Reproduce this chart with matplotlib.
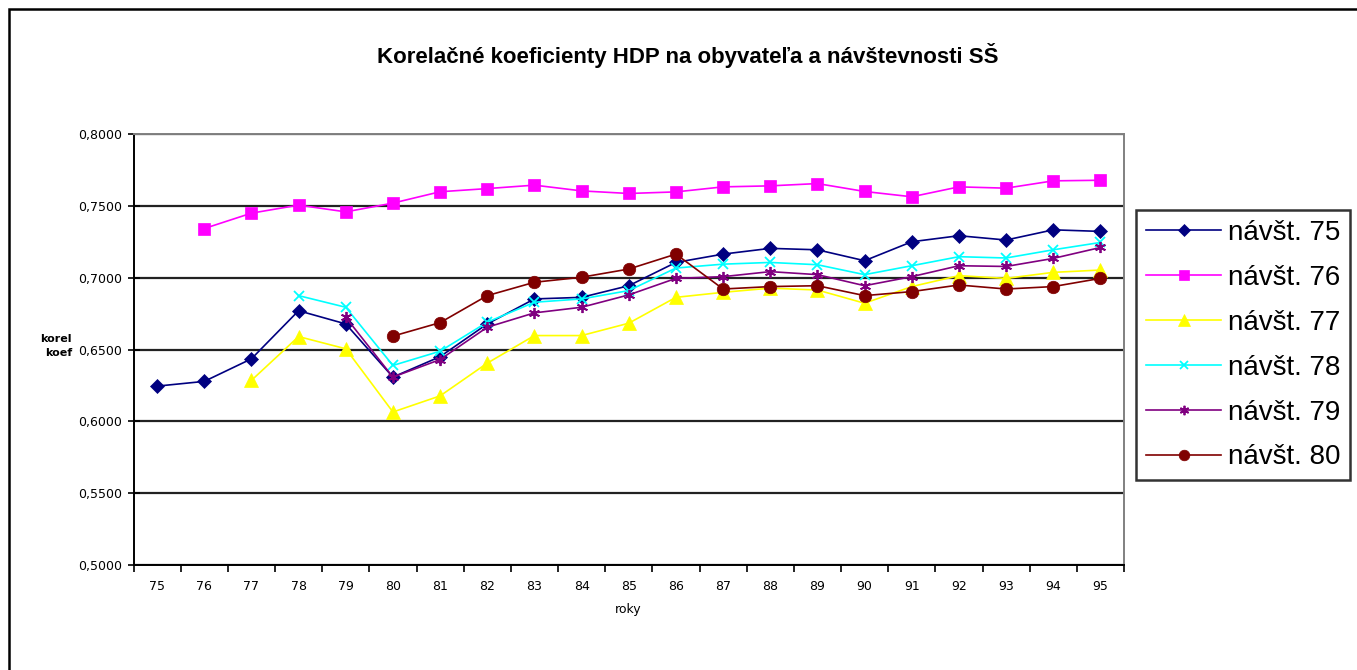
import numpy as np
import matplotlib
matplotlib.use("Agg")
from matplotlib import pyplot as plt
from matplotlib.patches import Rectangle

nan = np.nan

# roky (kategorie na osi x)
roky = ['75', '76', '77', '78', '79', '80', '81', '82', '83', '84', '85',
        '86', '87', '88', '89', '90', '91', '92', '93', '94', '95']

navst75 = [0.6245, 0.6278, 0.6435, 0.6770, 0.6678, 0.6308, 0.6450, 0.6678, 0.6852, 0.6863, 0.6944,
           0.7106, 0.7164, 0.7204, 0.7194, 0.7118, 0.7250, 0.7292, 0.7262, 0.7333, 0.7322]
navst76 = [nan, 0.7342, 0.7449, 0.7505, 0.7458, 0.7519, 0.7598, 0.7620, 0.7644, 0.7604, 0.7586,
           0.7597, 0.7632, 0.7639, 0.7655, 0.7600, 0.7563, 0.7632, 0.7623, 0.7674, 0.7678]
navst77 = [nan, nan, 0.6285, 0.6590, 0.6505, 0.6065, 0.6177, 0.6405, 0.6597, 0.6597, 0.6683,
           0.6863, 0.6898, 0.6927, 0.6914, 0.6822, 0.6938, 0.7014, 0.6995, 0.7037, 0.7053]
navst78 = [nan, nan, nan, 0.6875, 0.6794, 0.6389, 0.6488, 0.6690, 0.6829, 0.6852, 0.6910,
           0.7067, 0.7094, 0.7106, 0.7090, 0.7021, 0.7083, 0.7146, 0.7137, 0.7194, 0.7245]
navst79 = [nan, nan, nan, nan, 0.6724, 0.6308, 0.6430, 0.6655, 0.6755, 0.6794, 0.6880,
           0.6995, 0.7007, 0.7042, 0.7021, 0.6944, 0.7007, 0.7083, 0.7078, 0.7134, 0.7210]
navst80 = [nan, nan, nan, nan, nan, 0.6593, 0.6687, 0.6875, 0.6968, 0.7003, 0.7060,
           0.7164, 0.6921, 0.6938, 0.6944, 0.6875, 0.6903, 0.6949, 0.6921, 0.6938, 0.6995]

serie = [navst75, navst76, navst77, navst78, navst79, navst80]
nazvy = ['návšt. 75', 'návšt. 76', 'návšt. 77', 'návšt. 78', 'návšt. 79', 'návšt. 80']

y_ticks = [0.50, 0.55, 0.60, 0.65, 0.70, 0.75, 0.80]
y_labels = ['0,5000', '0,5500', '0,6000', '0,6500', '0,7000', '0,7500', '0,8000']

farby = ['#000080', '#FF00FF', '#FFFF00', '#00FFFF', '#800080', '#800000']
znacky = ['D', 's', '^', 'x', (6, 2, 0), 'o']
velkosti = [7.5, 9, 10, 7, 8, 9]

fig = plt.figure(figsize=(13.57, 6.70), dpi=100)
ax = fig.add_axes([133.5/1357, 1-565/670, (1124-133.5)/1357, (565-134)/670])

x = np.arange(len(roky))
for s, meno, f, m, v in zip(serie, nazvy, farby, znacky, velkosti):
    ax.plot(x, s, color=f, marker=m, markersize=v, linewidth=1.2, label=meno,
            markeredgewidth=1.3 if m in ('x', (6, 2, 0)) else 0.5, markeredgecolor=f)

ax.set_xlim(-0.5, len(roky)-0.5)
ax.set_ylim(0.5, 0.8)
ax.set_yticks(y_ticks)
ax.set_yticklabels(y_labels, fontsize=9, family='DejaVu Sans')
ax.set_xticks(x)
ax.set_xticklabels(roky, fontsize=9, family='DejaVu Sans')
ax.set_xticks(np.arange(-0.5, len(roky)), minor=True)
ax.tick_params(axis='x', which='major', length=0, pad=11)
ax.tick_params(axis='x', which='minor', length=5, width=1.2, direction='out')
ax.tick_params(axis='y', length=8, width=1.2, direction='inout', pad=4)
ax.yaxis.grid(True, color='#222222', linewidth=1.6)
ax.set_axisbelow(True)

for sp in ['left', 'bottom']:
    ax.spines[sp].set_color('black')
    ax.spines[sp].set_linewidth(1.4)
for sp in ['top', 'right']:
    ax.spines[sp].set_color('#808080')
    ax.spines[sp].set_linewidth(1.4)

fig.text(688/1357, 1-55/670, 'Korelačné koeficienty HDP na obyvateľa a návštevnosti SŠ',
         ha='center', va='center', fontsize=16, fontweight='bold', family='Liberation Sans')
fig.text(628/1357, 1-610/670, 'roky', ha='center', va='center', fontsize=9, family='DejaVu Sans')
fig.text(72/1357, 1-346/670, 'korel\nkoef', ha='right', va='center', fontsize=8,
         fontweight='bold', family='DejaVu Sans', linespacing=1.5)

leg = fig.legend(loc='upper left', bbox_to_anchor=(1136/1357, 1-210/670),
                 prop={'family': 'Liberation Sans', 'size': 20}, frameon=True, fancybox=False,
                 handlelength=2.7, handletextpad=0.25, labelspacing=0.68, borderpad=0.36,
                 borderaxespad=0, markerscale=0.85)
leg.get_frame().set_edgecolor('black')
leg.get_frame().set_linewidth(1.8)

# vonkajší rámik grafu
fig.patches.append(Rectangle((9/1357, -0.1), 1.2, 1.1-9/670, transform=fig.transFigure,
                             fill=False, edgecolor='black', linewidth=1.8, clip_on=False))

fig.savefig('out.png', dpi=100)
